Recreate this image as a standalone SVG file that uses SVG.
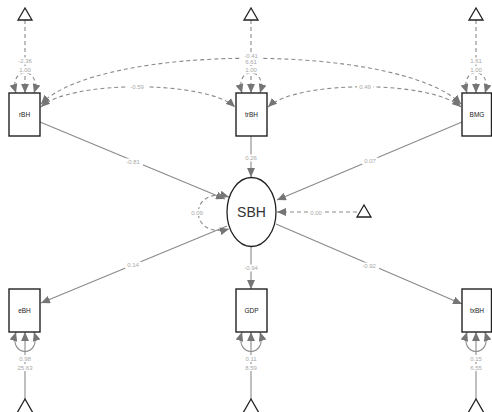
<svg xmlns="http://www.w3.org/2000/svg" width="492" height="412" viewBox="0 0 492 412">
<defs>
<style>
.e{fill:none;stroke:#8a8a8a;stroke-width:1.1}
.d{fill:none;stroke:#8a8a8a;stroke-width:1.1;stroke-dasharray:4,3}
.a{marker-end:url(#ah)}
.b{marker-start:url(#ah);marker-end:url(#ah)}
.box{fill:#fff;stroke:#222;stroke-width:1.4}
.tri{fill:#fff;stroke:#222;stroke-width:1.3}
.nt{font-family:"Liberation Sans",Arial,sans-serif;font-size:6.5px;fill:#222;text-anchor:middle}
.lt{font-family:"Liberation Sans",Arial,sans-serif;font-size:6px;fill:#a8a8a8;text-anchor:middle}
.bg{fill:#fff}
</style>
<marker id="ah" viewBox="0 0 8 7" refX="8" refY="3.5" markerWidth="9" markerHeight="8" markerUnits="userSpaceOnUse" orient="auto-start-reverse">
<path d="M0,0 L8,3.5 L0,7 z" fill="#757575" stroke="none"/>
</marker>
</defs>
<rect width="492" height="412" fill="#fff"/>
<g id="connectors">
<path class="d a" d="M25,20 L25,93"/>
<path class="d a" d="M251,20 L251,93"/>
<path class="d a" d="M476,20 L476,93"/>
<path class="d b" d="M16,93 C 8,66 42,66 34,93"/>
<path class="d b" d="M242,93 C 234,66 268,66 260,93"/>
<path class="d b" d="M467,93 C 459,66 493,66 485,93"/>
<path class="d b" d="M41,104 C 100,43 400,43 461,104"/>
<path class="d b" d="M41,107 C 70,80 205,80 235,107"/>
<path class="d b" d="M268,107 C 297,80 430,80 461,107"/>
<path class="e a" d="M40,122 L225,199"/>
<path class="e a" d="M251,136 L251,177"/>
<path class="e a" d="M462,122 L277,200"/>
<path class="e a" d="M227,226 L41,303"/>
<path class="e a" d="M251,247 L251,289"/>
<path class="e a" d="M276,224 L462,304"/>
<path class="d a" d="M357,212 L277,212"/>
<path class="d b" d="M229,197 C 188,185 188,240 229,229"/>
<path class="e a" d="M25,399 L25,332"/>
<path class="e a" d="M251,399 L251,332"/>
<path class="e a" d="M476,399 L476,332"/>
<path class="e b" d="M16,332 C 8,358 42,358 34,332"/>
<path class="e b" d="M242,332 C 234,358 268,358 260,332"/>
<path class="e b" d="M467,332 C 459,358 493,358 485,332"/>
</g>
<g id="labels">
<rect class="bg" x="15" y="57.5" width="20" height="7"/><text class="lt" x="25" y="63">-2.36</text>
<rect class="bg" x="17" y="66.5" width="16" height="7"/><text class="lt" x="25" y="72">1.00</text>
<rect class="bg" x="240" y="52" width="22" height="13"/><text class="lt" x="251" y="57.5">-0.41</text><text class="lt" x="251" y="64">6.61</text>
<rect class="bg" x="243" y="66.5" width="16" height="7"/><text class="lt" x="251" y="72">1.00</text>
<rect class="bg" x="468" y="57.5" width="16" height="7"/><text class="lt" x="476" y="63">1.61</text>
<rect class="bg" x="468" y="66.5" width="16" height="7"/><text class="lt" x="476" y="72">1.00</text>
<rect class="bg" x="127" y="83.5" width="20" height="7"/><text class="lt" x="137" y="89">-0.59</text>
<rect class="bg" x="357" y="83.5" width="16" height="7"/><text class="lt" x="365" y="89">0.49</text>
<rect class="bg" x="123" y="158.5" width="20" height="7"/><text class="lt" x="133" y="164">-0.81</text>
<rect class="bg" x="243" y="154.5" width="16" height="7"/><text class="lt" x="251" y="160">0.26</text>
<rect class="bg" x="362" y="157.5" width="16" height="7"/><text class="lt" x="370" y="163">0.07</text>
<rect class="bg" x="189" y="209" width="16" height="7"/><text class="lt" x="197" y="214.5">0.09</text>
<rect class="bg" x="308" y="209" width="16" height="7"/><text class="lt" x="316" y="214.5">0.00</text>
<rect class="bg" x="125" y="261.5" width="16" height="7"/><text class="lt" x="133" y="267">0.14</text>
<rect class="bg" x="241" y="264.5" width="20" height="7"/><text class="lt" x="251" y="270">-0.94</text>
<rect class="bg" x="359" y="262.5" width="20" height="7"/><text class="lt" x="369" y="268">-0.92</text>
<rect class="bg" x="17" y="355" width="16" height="7"/><text class="lt" x="25" y="360.5">0.98</text>
<rect class="bg" x="15" y="364" width="20" height="7"/><text class="lt" x="25" y="369.5">25.63</text>
<rect class="bg" x="243" y="355" width="16" height="7"/><text class="lt" x="251" y="360.5">0.11</text>
<rect class="bg" x="243" y="364" width="16" height="7"/><text class="lt" x="251" y="369.5">8.59</text>
<rect class="bg" x="468" y="355" width="16" height="7"/><text class="lt" x="476" y="360.5">0.15</text>
<rect class="bg" x="468" y="364" width="16" height="7"/><text class="lt" x="476" y="369.5">6.55</text>
</g>
<g id="tri-rBH"><polygon class="tri" points="25,8 18,20 32,20"/></g>
<g id="tri-trBH"><polygon class="tri" points="251,8 244,20 258,20"/></g>
<g id="tri-BMG"><polygon class="tri" points="476,8 469,20 483,20"/></g>
<g id="tri-SBH"><polygon class="tri" points="364,205 357,217 371,217"/></g>
<g id="tri-eBH"><polygon class="tri" points="25,399 17,413 33,413"/></g>
<g id="tri-GDP"><polygon class="tri" points="251,399 243,413 259,413"/></g>
<g id="tri-txBH"><polygon class="tri" points="476,399 468,413 484,413"/></g>
<g id="rBH"><rect class="box" x="9" y="93" width="31" height="43"/><text class="nt" x="24.5" y="117">rBH</text></g>
<g id="trBH"><rect class="box" x="236" y="93" width="31" height="43"/><text class="nt" x="251.5" y="117">trBH</text></g>
<g id="BMG"><rect class="box" x="462" y="93" width="29.5" height="43"/><text class="nt" x="477" y="117">BMG</text></g>
<g id="SBH"><ellipse cx="251.5" cy="212" rx="24.5" ry="34.5" fill="#fff" stroke="#222" stroke-width="1.3"/><text x="251.5" y="217" font-family="'Liberation Sans',Arial,sans-serif" font-size="14" fill="#333" text-anchor="middle">SBH</text></g>
<g id="eBH"><rect class="box" x="9" y="289" width="31" height="43"/><text class="nt" x="24.5" y="313">eBH</text></g>
<g id="GDP"><rect class="box" x="236" y="289" width="31" height="43"/><text class="nt" x="251.5" y="313">GDP</text></g>
<g id="txBH"><rect class="box" x="462" y="289" width="29.5" height="43"/><text class="nt" x="477" y="313">txBH</text></g>
</svg>
